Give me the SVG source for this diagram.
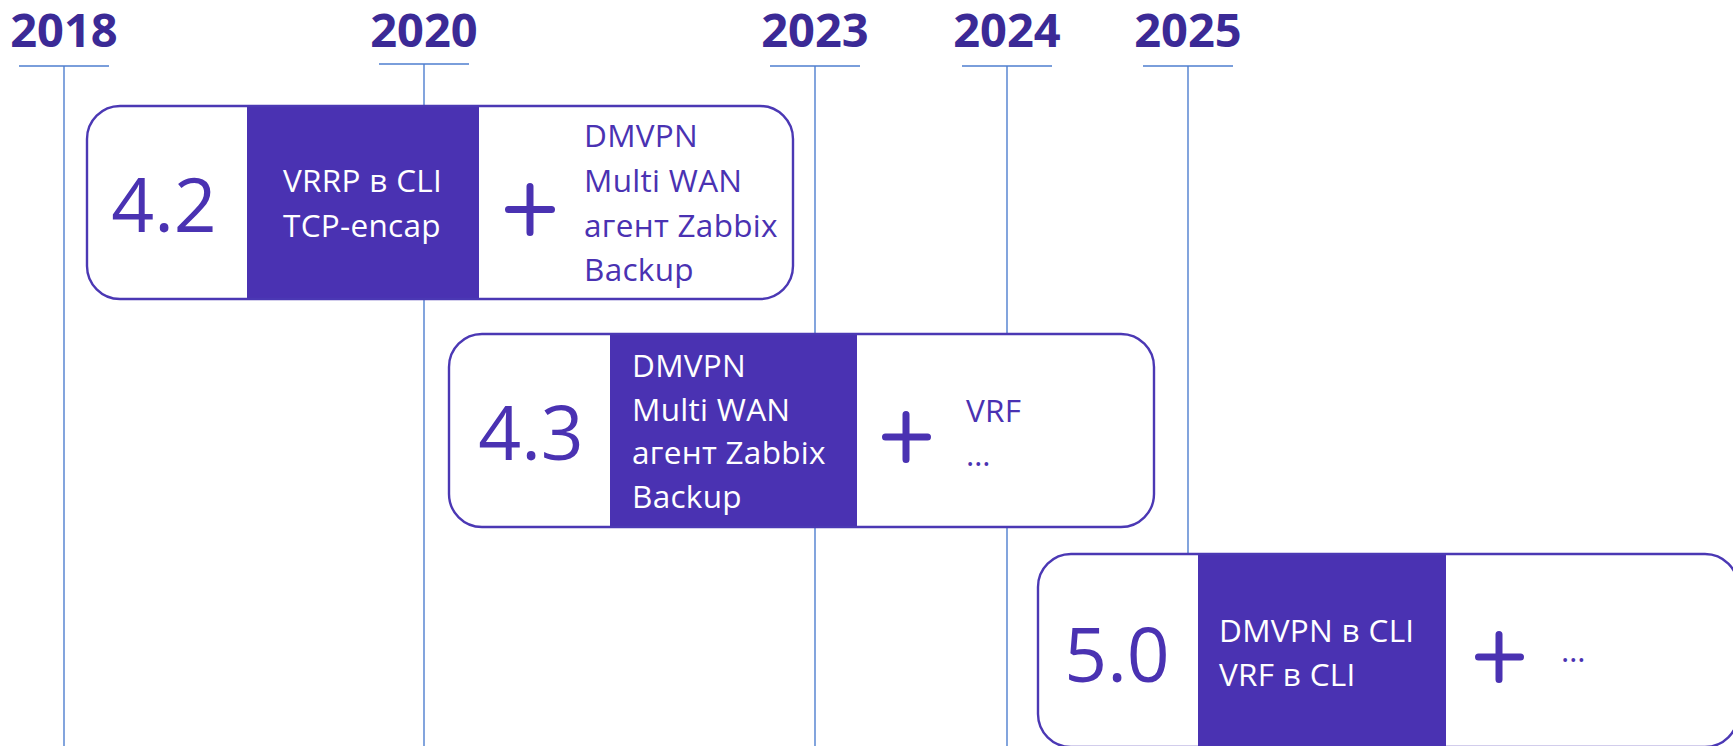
<svg xmlns="http://www.w3.org/2000/svg" width="1733" height="746" viewBox="0 0 1733 746">
  <style>
    .year{font-family:"Open Sans","Liberation Sans",sans-serif;font-weight:700;font-size:47px;fill:#3b2a96;text-anchor:middle}
    .tl{stroke:#4f7fcf;stroke-width:1.4;fill:none}
    .box{fill:#ffffff;stroke:none}
    .frame{fill:none;stroke:#4b38b4;stroke-width:2.4}
    .core{fill:#4a32b2}
    .ver{font-family:"Open Sans","Noto Sans",sans-serif;font-size:75px;fill:#4a32b2;text-anchor:middle}
    .w{font-family:"Open Sans","Noto Sans",sans-serif;font-size:31.5px;letter-spacing:0.3px;fill:#ffffff}
    .p{font-family:"Open Sans","Noto Sans",sans-serif;font-size:31.5px;letter-spacing:0.3px;fill:#4a32b2}
    .plus{stroke:#4a32b2;stroke-width:7;stroke-linecap:round;fill:none}
  </style>

  <g id="timeline">
    <text class="year" x="64" y="47">2018</text>
    <text class="year" x="424" y="47">2020</text>
    <text class="year" x="815" y="47">2023</text>
    <text class="year" x="1007" y="47">2024</text>
    <text class="year" x="1188" y="47">2025</text>
  </g>

  <g id="connectors">
    <path class="tl" d="M19 66H109M64 66V746"/>
    <path class="tl" d="M379 64H469M424 64V746"/>
    <path class="tl" d="M770 66H860M815 66V746"/>
    <path class="tl" d="M962 66H1052M1007 66V746"/>
    <path class="tl" d="M1143 66H1233M1188 66V560"/>
  </g>

  <g id="release-4-2">
    <rect class="box" x="87" y="106" width="706" height="193" rx="33"/>
    <rect class="core" x="247" y="106" width="232" height="193"/>
    <rect class="frame" x="87" y="106" width="706" height="193" rx="33"/>
    <text class="ver" x="164" y="232">4.2</text>
    <text class="w" x="283" y="192">VRRP в CLI</text>
    <text class="w" x="283" y="237">TCP-encap</text>
    <path class="plus" d="M508.5 209.5H551.5M530 186.5V232.5"/>
    <text class="p" x="584" y="147">DMVPN</text>
    <text class="p" x="584" y="192">Multi WAN</text>
    <text class="p" x="584" y="237">агент Zabbix</text>
    <text class="p" x="584" y="281">Backup</text>
  </g>

  <g id="release-4-3">
    <rect class="box" x="449" y="334" width="705" height="193" rx="33"/>
    <rect class="core" x="610" y="334" width="247" height="193"/>
    <rect class="frame" x="449" y="334" width="705" height="193" rx="33"/>
    <text class="ver" x="531" y="460">4.3</text>
    <text class="w" x="632" y="377">DMVPN</text>
    <text class="w" x="632" y="421">Multi WAN</text>
    <text class="w" x="632" y="464">агент Zabbix</text>
    <text class="w" x="632" y="508">Backup</text>
    <path class="plus" d="M885.5 437H927.5M906 414.5V459.5"/>
    <text class="p" x="966" y="422">VRF</text>
    <text class="p" x="966" y="466">…</text>
  </g>

  <g id="release-5-0">
    <rect class="box" x="1038" y="554" width="700" height="193" rx="33"/>
    <rect class="core" x="1198" y="554" width="248" height="193"/>
    <rect class="frame" x="1038" y="554" width="700" height="193" rx="33"/>
    <text class="ver" x="1117" y="682">5.0</text>
    <text class="w" x="1219" y="642">DMVPN в CLI</text>
    <text class="w" x="1219" y="686">VRF в CLI</text>
    <path class="plus" d="M1478.5 657H1520.5M1499 634.5V679.5"/>
    <text class="p" x="1561" y="662">…</text>
  </g>
</svg>
